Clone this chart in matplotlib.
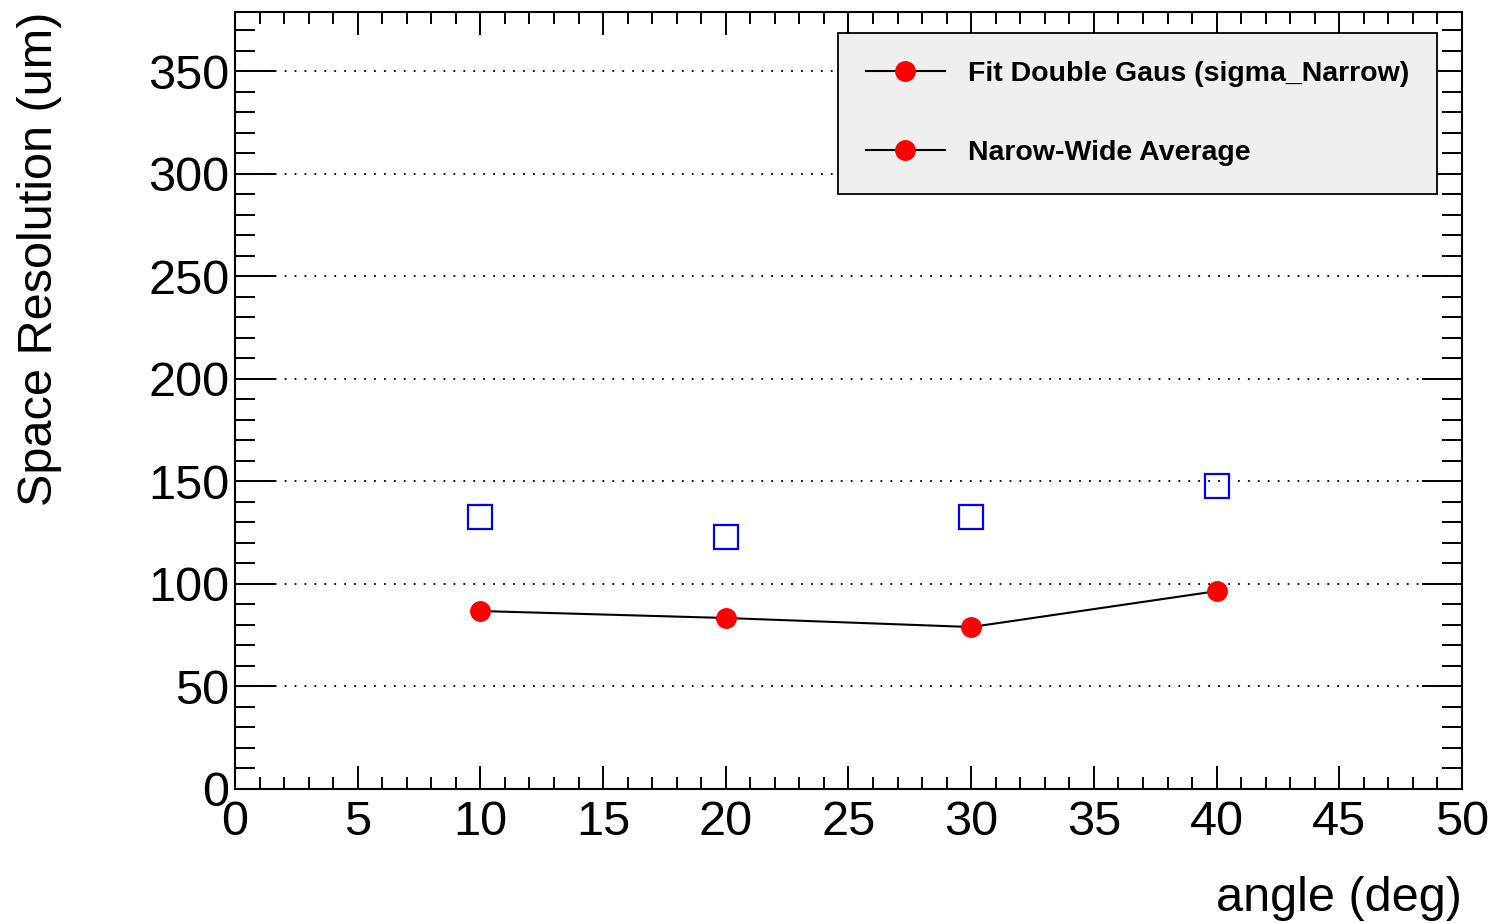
import matplotlib
matplotlib.use("Agg")
import matplotlib.pyplot as plt
from matplotlib.lines import Line2D
from matplotlib.ticker import MultipleLocator

plt.rcParams['font.family'] = ['Liberation Sans', 'DejaVu Sans']

# data
angles = [10, 20, 30, 40]
sigma_narrow = [86.8, 83.4, 79.0, 96.5]
nw_average = [132.6, 122.8, 132.6, 147.7]
legend_labels = ["Fit Double Gaus (sigma_Narrow)", "Narow-Wide Average"]

fig = plt.figure(figsize=(14.9, 9.23), dpi=100)
ax = fig.add_axes([0.1577, 0.1452, 0.8235, 0.8418])

ax.plot(angles, sigma_narrow, color='black', lw=1.5, marker='o',
        markersize=14, markerfacecolor='red', markeredgecolor='red', zorder=3)
ax.plot(angles, nw_average, ls='none', marker='s', markersize=17,
        markerfacecolor='none', markeredgecolor='blue', markeredgewidth=1.6, zorder=3)

ax.set_xlim(0, 50)
ax.set_ylim(0, 379)
ax.xaxis.set_major_locator(MultipleLocator(5))
ax.xaxis.set_minor_locator(MultipleLocator(1))
ax.yaxis.set_major_locator(MultipleLocator(50))
ax.yaxis.set_minor_locator(MultipleLocator(10))

ax.yaxis.grid(True, which='major', color='black', ls=(0, (1, 4.5)), lw=1.3)
ax.set_axisbelow(True)

ax.tick_params(axis='both', which='both', direction='in', top=True, right=True,
               width=1.4, labelsize=35)
ax.tick_params(axis='x', which='major', length=16.5, pad=8)
ax.tick_params(axis='x', which='minor', length=8.5)
ax.tick_params(axis='y', which='major', length=29, pad=4)
ax.tick_params(axis='y', which='minor', length=14.5)
for s in ax.spines.values():
    s.set_linewidth(1.5)

ax.set_xlabel('angle (deg)', fontsize=35, loc='right', labelpad=22)
ax.set_ylabel('Space Resolution (um)', fontsize=35, loc='top', labelpad=62)

handles = [Line2D([], [], color='black', lw=1.5, marker='o', markersize=14,
                  markerfacecolor='red', markeredgecolor='red') for _ in legend_labels]
leg = ax.legend(handles, legend_labels, loc='upper right', bbox_to_anchor=(0.9796, 0.973),
                borderaxespad=0, fancybox=False, framealpha=1, facecolor='#efefef',
                edgecolor='black', prop={'weight': 'bold', 'size': 20.5},
                handlelength=2.8, handletextpad=0.8, labelspacing=1.88, borderpad=0.97)
leg.get_frame().set_linewidth(1.3)

fig.savefig('out.png', dpi=100)
